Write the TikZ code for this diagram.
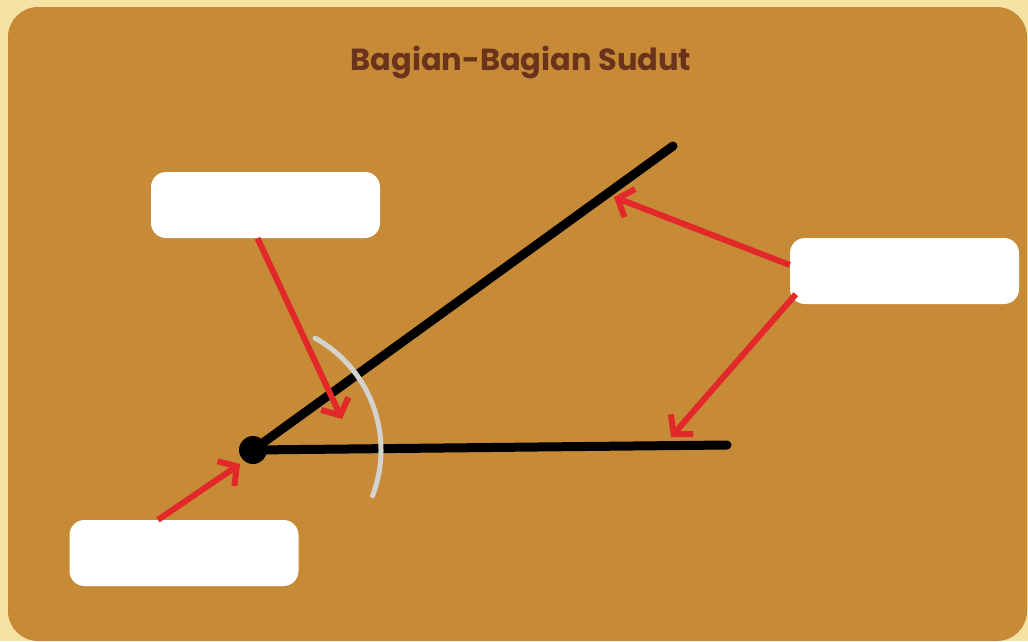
\documentclass[tikz,border=0pt]{standalone}
\usepackage{fontspec}
\newfontfamily\titlefont{Poppins}[UprightFont=* Bold]
\usetikzlibrary{arrows.meta,calc}
\definecolor{cream}{HTML}{F5E3A6}
\definecolor{panel}{HTML}{C78A37}
\definecolor{titlebrown}{HTML}{6A331C}
\definecolor{redarrow}{HTML}{E22828}
\definecolor{arcgray}{HTML}{D4D2CC}
\tikzset{
  labelbox/.style={draw=none,fill=white,rounded corners=15pt,minimum width=229pt,minimum height=66pt,inner sep=0pt},
  ray/.style={line width=9pt,black,line cap=round},
  pointer/.style={line width=6pt,redarrow,-{Straight Barb[length=13pt,width=30pt]}},
}
\begin{document}
\begin{tikzpicture}[x=1pt,y=-1pt]
\useasboundingbox (0,0) rectangle (1028,641);
\fill[cream] (0,0) rectangle (1028,641);
\fill[panel,rounded corners=30pt] (8,7) rectangle (1027,641);
\node[text=titlebrown,font=\titlefont\fontsize{30.5}{36}\selectfont] (title) at (521,62) {Bagian-Bagian Sudut};
% angle
\coordinate (end1) at (673,146);
\coordinate (end2) at (727,445);
\node[circle,fill=black,inner sep=0pt,minimum size=28pt] (vertex) at (253,450) {};
\draw[ray] (vertex.center) -- (end1);
\draw[ray] (vertex.center) -- (end2);
\draw[arcgray,line width=5pt,line cap=round] ($(vertex.center)+(-61:128)$) arc[start angle=-61,end angle=21,radius=128];
% boxes
\node[labelbox] (b1) at (265.5,205) {};
\node[labelbox] (b2) at (904.5,271) {};
\node[labelbox] (b3) at (184,553) {};
% arrow tips
\coordinate (t1) at (342,419);
\coordinate (t2) at (614,197);
\coordinate (t3) at (671,437);
\coordinate (t4) at (240,464);
\draw[pointer] ($(b1.south)+(-8,0)$) -- (t1);
\draw[pointer] ($(b2.west)+(0,-6)$) -- (t2);
\draw[pointer] ($(b2.south west)+(6,-10)$) -- (t3);
\draw[pointer] ($(b3.north)+(-26,0)$) -- (t4);
\end{tikzpicture}
\end{document}
